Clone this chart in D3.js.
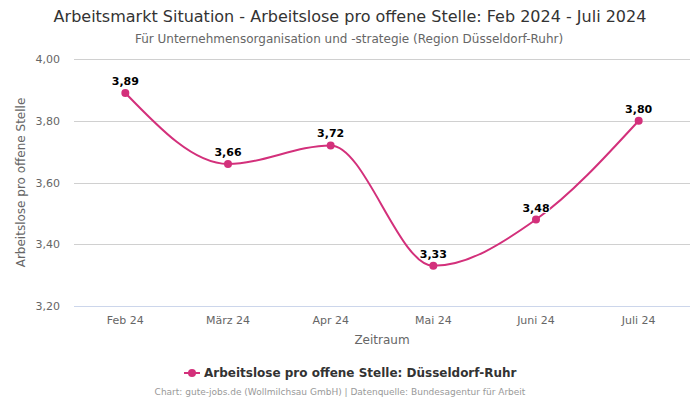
<html>
<head>
  <script src="https://d3js.org/d3.v7.min.js"></script>
  <style>
    body { margin: 0; padding: 0; background: #fff; }
    svg { font-family: "DejaVu Sans", sans-serif; }
  </style>
</head>
<body>
<div id="chart"></div>
<script>
const categories = ["Feb 24", "März 24", "Apr 24", "Mai 24", "Juni 24", "Juli 24"];
const values = [3.89, 3.66, 3.72, 3.33, 3.48, 3.80];
const yTicks = [3.2, 3.4, 3.6, 3.8, 4.0];
const seriesName = "Arbeitslose pro offene Stelle: Düsseldorf-Ruhr";

const width = 700, height = 400;
const margin = { top: 59, right: 10, bottom: 94, left: 74 };
const color = "#d3307b";
const fmt = v => v.toFixed(2).replace(".", ",");

const svg = d3.select("#chart").append("svg")
  .attr("width", width)
  .attr("height", height);

const x = d3.scaleBand()
  .domain(categories)
  .range([margin.left, width - margin.right]);

const y = d3.scaleLinear()
  .domain([3.2, 4.0])
  .range([height - margin.bottom, margin.top]);

// title + subtitle
svg.append("text")
  .attr("x", 350).attr("y", 22)
  .attr("text-anchor", "middle")
  .style("font-size", "16px").style("fill", "#333")
  .text("Arbeitsmarkt Situation - Arbeitslose pro offene Stelle: Feb 2024 - Juli 2024");

svg.append("text")
  .attr("x", 349).attr("y", 43)
  .attr("text-anchor", "middle")
  .style("font-size", "12px").style("fill", "#666")
  .text("Für Unternehmensorganisation und -strategie (Region Düsseldorf-Ruhr)");

// grid
svg.append("g")
  .selectAll("line")
  .data(yTicks)
  .enter().append("line")
  .attr("x1", margin.left).attr("x2", width - margin.right)
  .attr("y1", d => Math.round(y(d)) + 0.5).attr("y2", d => Math.round(y(d)) + 0.5)
  .attr("stroke", d => d === 3.2 ? "#ccd6eb" : "#d0d0d0")
  .attr("stroke-width", 1);

// y axis labels
const yAxis = d3.axisLeft(y).tickValues(yTicks).tickFormat(fmt).tickSize(0).tickPadding(14);
svg.append("g")
  .attr("transform", `translate(${margin.left},0)`)
  .call(yAxis)
  .call(g => g.select(".domain").remove())
  .call(g => g.selectAll("text").style("font-size", "11px").style("fill", "#666").style("font-family", "DejaVu Sans, sans-serif"));

// x axis labels
const xAxis = d3.axisBottom(x).tickSize(0).tickPadding(10);
svg.append("g")
  .attr("transform", `translate(0,${height - margin.bottom})`)
  .call(xAxis)
  .call(g => g.select(".domain").remove())
  .call(g => g.selectAll("text").style("font-size", "11px").style("fill", "#666").style("font-family", "DejaVu Sans, sans-serif"));

// axis titles
svg.append("text")
  .attr("x", (margin.left + width - margin.right) / 2).attr("y", 344)
  .attr("text-anchor", "middle")
  .style("font-size", "12px").style("fill", "#666")
  .text("Zeitraum");

svg.append("text")
  .attr("transform", `translate(25,${(margin.top + height - margin.bottom) / 2}) rotate(-90)`)
  .attr("text-anchor", "middle")
  .style("font-size", "12px").style("fill", "#666")
  .text("Arbeitslose pro offene Stelle");

// line
const cx = d => x(d) + x.bandwidth() / 2;
const line = d3.line()
  .x((d, i) => cx(categories[i]))
  .y(d => y(d))
  .curve(d3.curveMonotoneX);

svg.append("path")
  .datum(values)
  .attr("d", line)
  .attr("fill", "none")
  .attr("stroke", color)
  .attr("stroke-width", 2);

svg.append("g")
  .selectAll("circle")
  .data(values)
  .enter().append("circle")
  .attr("cx", (d, i) => cx(categories[i]))
  .attr("cy", d => y(d))
  .attr("r", 4)
  .attr("fill", color);

svg.append("g")
  .selectAll("text")
  .data(values)
  .enter().append("text")
  .attr("x", (d, i) => cx(categories[i]))
  .attr("y", d => y(d) - 8)
  .attr("text-anchor", "middle")
  .style("font-size", "11px").style("font-weight", "bold").style("fill", "#000")
  .style("stroke", "#fff").style("stroke-width", 2).style("paint-order", "stroke")
  .text(fmt);

// legend
const legend = svg.append("g").attr("transform", "translate(184,373)");
legend.append("line")
  .attr("x1", 0).attr("x2", 16).attr("y1", 0).attr("y2", 0)
  .attr("stroke", color).attr("stroke-width", 2);
legend.append("circle")
  .attr("cx", 8).attr("cy", 0).attr("r", 4).attr("fill", color);
legend.append("text")
  .attr("x", 20).attr("y", 4)
  .style("font-size", "12px").style("font-weight", "bold").style("fill", "#333")
  .text(seriesName);

// credits
svg.append("text")
  .attr("x", 340).attr("y", 395)
  .attr("text-anchor", "middle")
  .style("font-size", "9px").style("fill", "#999")
  .text("Chart: gute-jobs.de (Wollmilchsau GmbH) | Datenquelle: Bundesagentur für Arbeit");
</script>
</body>
</html>
